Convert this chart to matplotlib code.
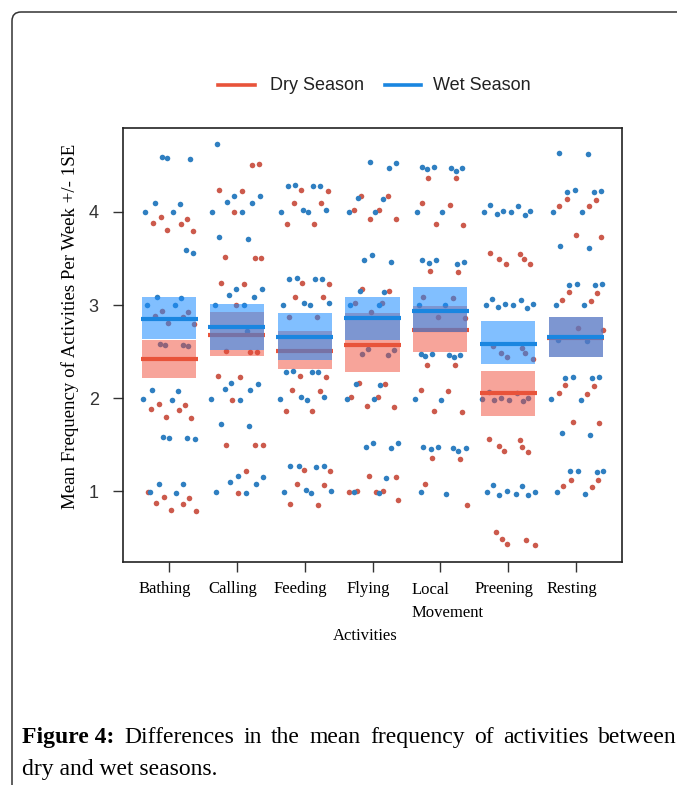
import matplotlib
matplotlib.use("Agg")
import matplotlib.pyplot as plt
import numpy as np
from matplotlib.patches import FancyBboxPatch, Rectangle

# ---- data --------------------------------------------------------------
ACTIVITIES = ["Bathing", "Calling", "Feeding", "Flying", "Local\nMovement",
              "Preening", "Resting"]

DRY_MEAN = [2.42, 2.68, 2.51, 2.57, 2.73, 2.05, 2.65]
DRY_LO = [2.21, 2.45, 2.31, 2.28, 2.49, 1.81, 2.44]
DRY_HI = [2.62, 2.92, 2.72, 2.91, 2.99, 2.29, 2.87]

WET_MEAN = [2.85, 2.76, 2.66, 2.86, 2.94, 2.58, 2.66]
WET_LO = [2.63, 2.52, 2.41, 2.62, 2.71, 2.37, 2.44]
WET_HI = [3.09, 3.01, 2.91, 3.09, 3.19, 2.83, 2.87]

# raw observations as (jitter offset, value)
BATHING_DRY = [(-0.24, 3.88), (-0.12, 3.95), (-0.03, 3.81), (0.17, 3.87), (0.27, 3.93), (0.35, 3.80),
               (-0.11, 2.94), (0.28, 2.93), (-0.21, 2.88), (-0.01, 2.81), (0.20, 2.87), (0.37, 2.80),
               (-0.27, 1.88), (-0.15, 1.94), (-0.05, 1.80), (0.14, 1.87), (0.24, 1.93), (0.32, 1.79),
               (-0.31, 0.99), (-0.08, 0.94), (-0.19, 0.87), (0.03, 0.80), (0.21, 0.86), (0.29, 0.92),
               (0.40, 0.78)]
BATHING_WET = [(-0.11, 4.59), (-0.03, 4.58), (0.31, 4.57),
               (-0.35, 4.00), (-0.21, 4.10), (0.06, 4.00), (0.16, 4.09),
               (0.25, 3.59), (0.35, 3.56),
               (-0.18, 3.09), (0.18, 3.08), (-0.33, 3.00), (0.09, 3.00),
               (-0.13, 2.58), (-0.06, 2.57), (0.21, 2.57), (0.28, 2.56),
               (-0.39, 1.99), (-0.25, 2.09), (0.04, 1.98), (0.13, 2.08),
               (-0.09, 1.58), (0.00, 1.57), (0.27, 1.57), (0.38, 1.56),
               (-0.15, 1.08), (0.20, 1.08), (-0.28, 0.99), (0.10, 0.98)]

CALLING_DRY = [(0.23, 4.51), (0.33, 4.52), (-0.27, 4.24), (0.08, 4.23), (-0.05, 4.00),
               (-0.18, 3.52), (0.27, 3.50), (0.35, 3.50), (-0.24, 3.24), (0.10, 3.23),
               (-0.02, 3.00), (-0.16, 2.51), (0.19, 2.49), (0.30, 2.49), (-0.28, 2.24),
               (0.05, 2.23), (-0.07, 1.98), (-0.16, 1.49), (0.27, 1.49), (0.38, 1.49),
               (0.14, 1.22), (0.01, 0.98)]
CALLING_WET = [(-0.30, 4.73), (-0.15, 4.11), (-0.04, 4.17), (0.22, 4.10), (0.34, 4.17),
               (-0.36, 4.00), (0.08, 4.00), (-0.27, 3.73), (0.17, 3.71),
               (-0.12, 3.11), (-0.01, 3.17), (0.25, 3.09), (0.37, 3.17),
               (-0.33, 3.00), (0.10, 3.00), (0.15, 2.72),
               (-0.18, 2.10), (-0.08, 2.16), (0.20, 2.09), (0.31, 2.15),
               (-0.38, 1.99), (0.05, 1.98), (-0.23, 1.72), (0.18, 1.70),
               (0.02, 1.16), (0.39, 1.15), (-0.10, 1.10), (0.28, 1.08),
               (-0.31, 0.99), (0.13, 0.98)]

FEEDING_DRY = [(-0.05, 4.24), (0.34, 4.23), (-0.16, 4.10), (0.24, 4.10), (-0.26, 3.87),
               (0.14, 3.87), (-0.04, 3.24), (0.36, 3.23), (-0.14, 3.09), (0.27, 3.09),
               (-0.23, 2.87), (0.18, 2.87), (-0.07, 2.24), (0.31, 2.23), (-0.19, 2.09),
               (0.22, 2.08), (-0.28, 1.86), (0.11, 1.86), (-0.01, 1.23), (0.38, 1.22),
               (-0.11, 1.08), (0.29, 1.07), (-0.22, 0.86), (0.20, 0.85)]
FEEDING_WET = [(-0.25, 4.28), (-0.14, 4.29), (0.12, 4.28), (0.23, 4.28),
               (-0.03, 4.02), (0.05, 4.00), (0.32, 4.02), (-0.35, 4.00),
               (-0.23, 3.28), (-0.12, 3.29), (0.15, 3.28), (0.25, 3.28),
               (-0.32, 3.00), (-0.01, 3.02), (0.08, 3.00), (0.36, 3.02),
               (-0.27, 2.28), (-0.17, 2.29), (0.11, 2.28), (0.20, 2.28),
               (-0.37, 1.99), (-0.05, 2.01), (0.03, 1.98), (0.29, 2.01),
               (-0.21, 1.27), (-0.08, 1.27), (0.17, 1.26), (0.28, 1.27),
               (-0.30, 0.99), (0.02, 1.01), (0.09, 0.98), (0.39, 1.00)]

FLYING_DRY = [(-0.17, 4.17), (0.23, 4.17), (-0.28, 4.02), (0.10, 4.02), (-0.04, 3.92),
              (0.34, 3.92), (-0.15, 3.17), (0.25, 3.15), (-0.26, 3.02), (0.14, 3.02),
              (-0.02, 2.92), (-0.20, 2.16), (0.19, 2.15), (-0.31, 2.01), (0.08, 2.01),
              (-0.08, 1.91), (0.31, 1.90), (-0.05, 1.16), (0.34, 1.15), (-0.34, 0.99),
              (-0.23, 1.00), (0.05, 0.99), (0.16, 1.00), (0.38, 0.90)]
FLYING_WET = [(-0.03, 4.54), (0.24, 4.47), (0.35, 4.53), (-0.22, 4.15), (0.15, 4.14),
              (-0.35, 4.00), (0.04, 4.00), (-0.12, 3.48), (-0.01, 3.54), (0.27, 3.46),
              (-0.19, 3.15), (0.17, 3.14), (-0.33, 3.00), (0.09, 3.00),
              (-0.16, 2.47), (-0.06, 2.53), (0.23, 2.46), (0.32, 2.52),
              (-0.24, 2.15), (0.11, 2.14), (-0.37, 1.99), (0.02, 1.99),
              (-0.09, 1.47), (0.01, 1.52), (0.28, 1.46), (0.38, 1.52),
              (0.20, 1.14), (-0.28, 0.99), (0.09, 0.98)]

LOCAL_DRY = [(-0.18, 4.37), (0.23, 4.37), (-0.27, 4.10), (0.15, 4.08), (-0.07, 3.87),
             (0.33, 3.86), (-0.15, 3.37), (0.26, 3.35), (-0.25, 3.09), (0.18, 3.08),
             (-0.04, 2.87), (0.36, 2.86), (-0.20, 2.36), (0.21, 2.35), (-0.29, 2.09),
             (0.11, 2.08), (-0.09, 1.86), (0.32, 1.85), (-0.12, 1.36), (0.29, 1.34),
             (-0.22, 1.08), (0.39, 0.85)]
LOCAL_WET = [(-0.27, 4.48), (-0.19, 4.46), (-0.10, 4.48), (0.16, 4.47), (0.23, 4.44), (0.32, 4.47),
             (-0.34, 4.00), (0.03, 4.00),
             (-0.27, 3.48), (-0.16, 3.45), (-0.06, 3.48), (0.24, 3.44), (0.35, 3.46),
             (-0.32, 3.00), (0.07, 3.00),
             (-0.28, 2.47), (-0.23, 2.45), (-0.12, 2.47), (0.13, 2.46), (0.20, 2.44), (0.29, 2.46),
             (-0.38, 1.99), (0.01, 1.98),
             (-0.25, 1.47), (-0.14, 1.45), (-0.03, 1.47), (0.18, 1.46), (0.26, 1.43), (0.38, 1.46),
             (-0.29, 0.99), (0.09, 0.97)]

PREENING_DRY = [(-0.26, 3.56), (-0.13, 3.49), (-0.03, 3.44), (0.18, 3.55), (0.23, 3.49), (0.32, 3.44),
                (-0.23, 2.56), (-0.10, 2.48), (-0.02, 2.44), (0.20, 2.54), (0.25, 2.48), (0.36, 2.42),
                (-0.28, 1.56), (-0.14, 1.48), (-0.06, 1.43), (0.17, 1.55), (0.21, 1.47), (0.29, 1.42),
                (-0.18, 0.56), (-0.09, 0.48), (-0.01, 0.43), (0.27, 0.47), (0.39, 0.42)]
PREENING_WET = [(-0.35, 4.00), (-0.26, 4.07), (-0.17, 3.98), (-0.07, 4.01),
                (0.05, 4.00), (0.15, 4.06), (0.25, 3.97), (0.33, 4.01),
                (-0.33, 3.00), (-0.24, 3.06), (-0.15, 2.98), (-0.04, 3.01),
                (0.07, 3.00), (0.19, 3.05), (0.28, 2.97), (0.36, 3.01),
                (-0.39, 1.99), (-0.28, 2.06), (-0.21, 1.98), (-0.10, 2.00),
                (0.02, 1.98), (0.13, 2.05), (0.22, 1.97), (0.30, 2.00),
                (-0.31, 0.99), (-0.23, 1.06), (-0.13, 0.96), (-0.01, 1.00),
                (0.12, 0.97), (0.20, 1.05), (0.29, 0.96), (0.39, 0.99)]

RESTING_DRY = [(-0.13, 4.14), (0.29, 4.13), (-0.25, 4.06), (0.19, 4.06), (0.00, 3.75),
               (0.37, 3.73), (-0.10, 3.14), (0.31, 3.13), (-0.21, 3.05), (0.22, 3.04),
               (0.03, 2.75), (0.40, 2.73), (-0.16, 2.14), (0.27, 2.13), (-0.25, 2.05),
               (0.16, 2.04), (-0.04, 1.74), (0.34, 1.73), (-0.07, 1.12), (0.32, 1.12),
               (-0.19, 1.05), (0.24, 1.04)]
RESTING_WET = [(-0.25, 4.63), (0.18, 4.62), (-0.13, 4.22), (-0.02, 4.24), (0.27, 4.22),
               (0.37, 4.23), (-0.34, 4.00), (0.09, 4.00), (-0.24, 3.63), (0.19, 3.61),
               (-0.10, 3.22), (0.02, 3.23), (0.28, 3.22), (0.38, 3.23),
               (-0.29, 3.00), (0.12, 3.00), (-0.26, 2.62), (0.16, 2.61),
               (-0.16, 2.22), (-0.04, 2.23), (0.24, 2.21), (0.34, 2.23),
               (-0.37, 1.99), (0.07, 1.98), (-0.21, 1.62), (0.21, 1.60),
               (-0.09, 1.21), (0.03, 1.22), (0.31, 1.20), (0.40, 1.22),
               (-0.28, 0.99), (0.13, 0.97)]

DRY_POINTS = [BATHING_DRY, CALLING_DRY, FEEDING_DRY, FLYING_DRY, LOCAL_DRY,
              PREENING_DRY, RESTING_DRY]
WET_POINTS = [BATHING_WET, CALLING_WET, FEEDING_WET, FLYING_WET, LOCAL_WET,
              PREENING_WET, RESTING_WET]

# ---- style -------------------------------------------------------------
W, H = 677, 785
RED_PT, BLUE_PT = "#cc5a4c", "#2f7fc1"
RED_BAND, BLUE_BAND = "#f04a36", "#1a8cff"
RED_LINE, BLUE_LINE = "#e8533a", "#1a86e0"
SERIF = ["Liberation Serif", "DejaVu Serif"]
SANS = ["Liberation Sans", "DejaVu Sans"]

fig = plt.figure(figsize=(W / 100, H / 100), dpi=100)
fig.patch.set_facecolor("white")

# page frame (rounded, runs off the right and bottom)
frame = FancyBboxPatch((0.12, -1.0), 8.0, 7.85 - 0.12 + 1.0,
                       boxstyle="round,pad=0,rounding_size=0.09",
                       transform=fig.dpi_scale_trans, fill=False,
                       ec="#333333", lw=1.1, clip_on=False)
fig.patches.append(frame)

ax = fig.add_axes([123 / W, 1 - 562 / H, 499 / W, 434 / H])
x = np.arange(1, len(ACTIVITIES) + 1)
bw = 0.8

for i in range(len(ACTIVITIES)):
    d = np.array(DRY_POINTS[i])
    w = np.array(WET_POINTS[i])
    ax.scatter(x[i] + d[:, 0], d[:, 1], s=16, color=RED_PT, lw=0, zorder=1)
    ax.scatter(x[i] + w[:, 0], w[:, 1], s=16, color=BLUE_PT, lw=0, zorder=1)
    ax.add_patch(Rectangle((x[i] - bw / 2, DRY_LO[i]), bw, DRY_HI[i] - DRY_LO[i],
                           fc=RED_BAND, alpha=0.5, lw=0, zorder=2))
    ax.hlines(DRY_MEAN[i], x[i] - bw / 2 - 0.02, x[i] + bw / 2 + 0.02,
              color=RED_LINE, lw=3, zorder=3)
    ax.add_patch(Rectangle((x[i] - bw / 2, WET_LO[i]), bw, WET_HI[i] - WET_LO[i],
                           fc=BLUE_BAND, alpha=0.55, lw=0, zorder=4))
    ax.hlines(WET_MEAN[i], x[i] - bw / 2 - 0.02, x[i] + bw / 2 + 0.02,
              color=BLUE_LINE, lw=3, zorder=5)

ax.set_xlim(0.32, 7.68)
ax.set_ylim(0.237, 4.903)
ax.set_xticks(x)
ax.set_xticklabels([])
ax.set_yticks([1, 2, 3, 4])
ax.set_yticklabels(["1", "2", "3", "4"], family=SANS, fontsize=13, color="#333333")
ax.tick_params(length=7.5, width=1, pad=10, color="#333333")
for s in ax.spines.values():
    s.set_linewidth(1.2)
    s.set_color("#222222")

# category labels (serif, set slightly left of the ticks as in the original)
xt = ax.get_xaxis_transform()
for i, lab in enumerate(ACTIVITIES):
    if "\n" in lab:
        first, second = lab.split("\n")
        ax.text(x[i] - 0.42, -0.046, first, transform=xt, ha="left", va="top",
                family=SERIF, fontsize=12)
        ax.text(x[i] - 0.42, -0.098, second, transform=xt, ha="left", va="top",
                family=SERIF, fontsize=12)
    else:
        ax.text(x[i] - 0.06, -0.043, lab, transform=xt, ha="center", va="top",
                family=SERIF, fontsize=12)

fig.text(365 / W, 1 - 636 / H, "Activities", ha="center", va="center",
         family=SERIF, fontsize=12)
fig.text(70 / W, 1 - 326 / H, "Mean Frequency of Activities Per Week +/- 1SE",
         rotation=90, ha="center", va="center", family=SERIF, fontsize=13.6)

# legend
ly = 1 - 85 / H
fig.add_artist(plt.Line2D([218 / W, 255 / W], [ly, ly], color=RED_LINE, lw=2.6))
fig.text(270 / W, ly, "Dry Season", ha="left", va="center", family=SANS,
         fontsize=13, color="#222222")
fig.add_artist(plt.Line2D([385 / W, 421 / W], [ly, ly], color=BLUE_LINE, lw=2.6))
fig.text(433 / W, ly, "Wet Season", ha="left", va="center", family=SANS,
         fontsize=13, color="#222222")

# caption, first line justified between the margins
renderer = fig.canvas.get_renderer()
words = [("Figure 4:", "bold")] + [(wd, "normal") for wd in
         "Differences in the mean frequency of activities between".split()]
left, right = 22, 677
texts = [fig.text(0, 1 - 743 / H, wd, ha="left", va="baseline", family=SERIF,
                  fontsize=17, weight=wt) for wd, wt in words]
widths = [t.get_window_extent(renderer).width for t in texts]
gap = (right - left - sum(widths)) / (len(texts) - 1)
pos = left
for t, wdt in zip(texts, widths):
    t.set_x(pos / W)
    pos += wdt + gap
fig.text(left / W, 1 - 775 / H, "dry and wet seasons.", ha="left", va="baseline",
         family=SERIF, fontsize=17)

fig.savefig("out.png", dpi=100, facecolor="white")
